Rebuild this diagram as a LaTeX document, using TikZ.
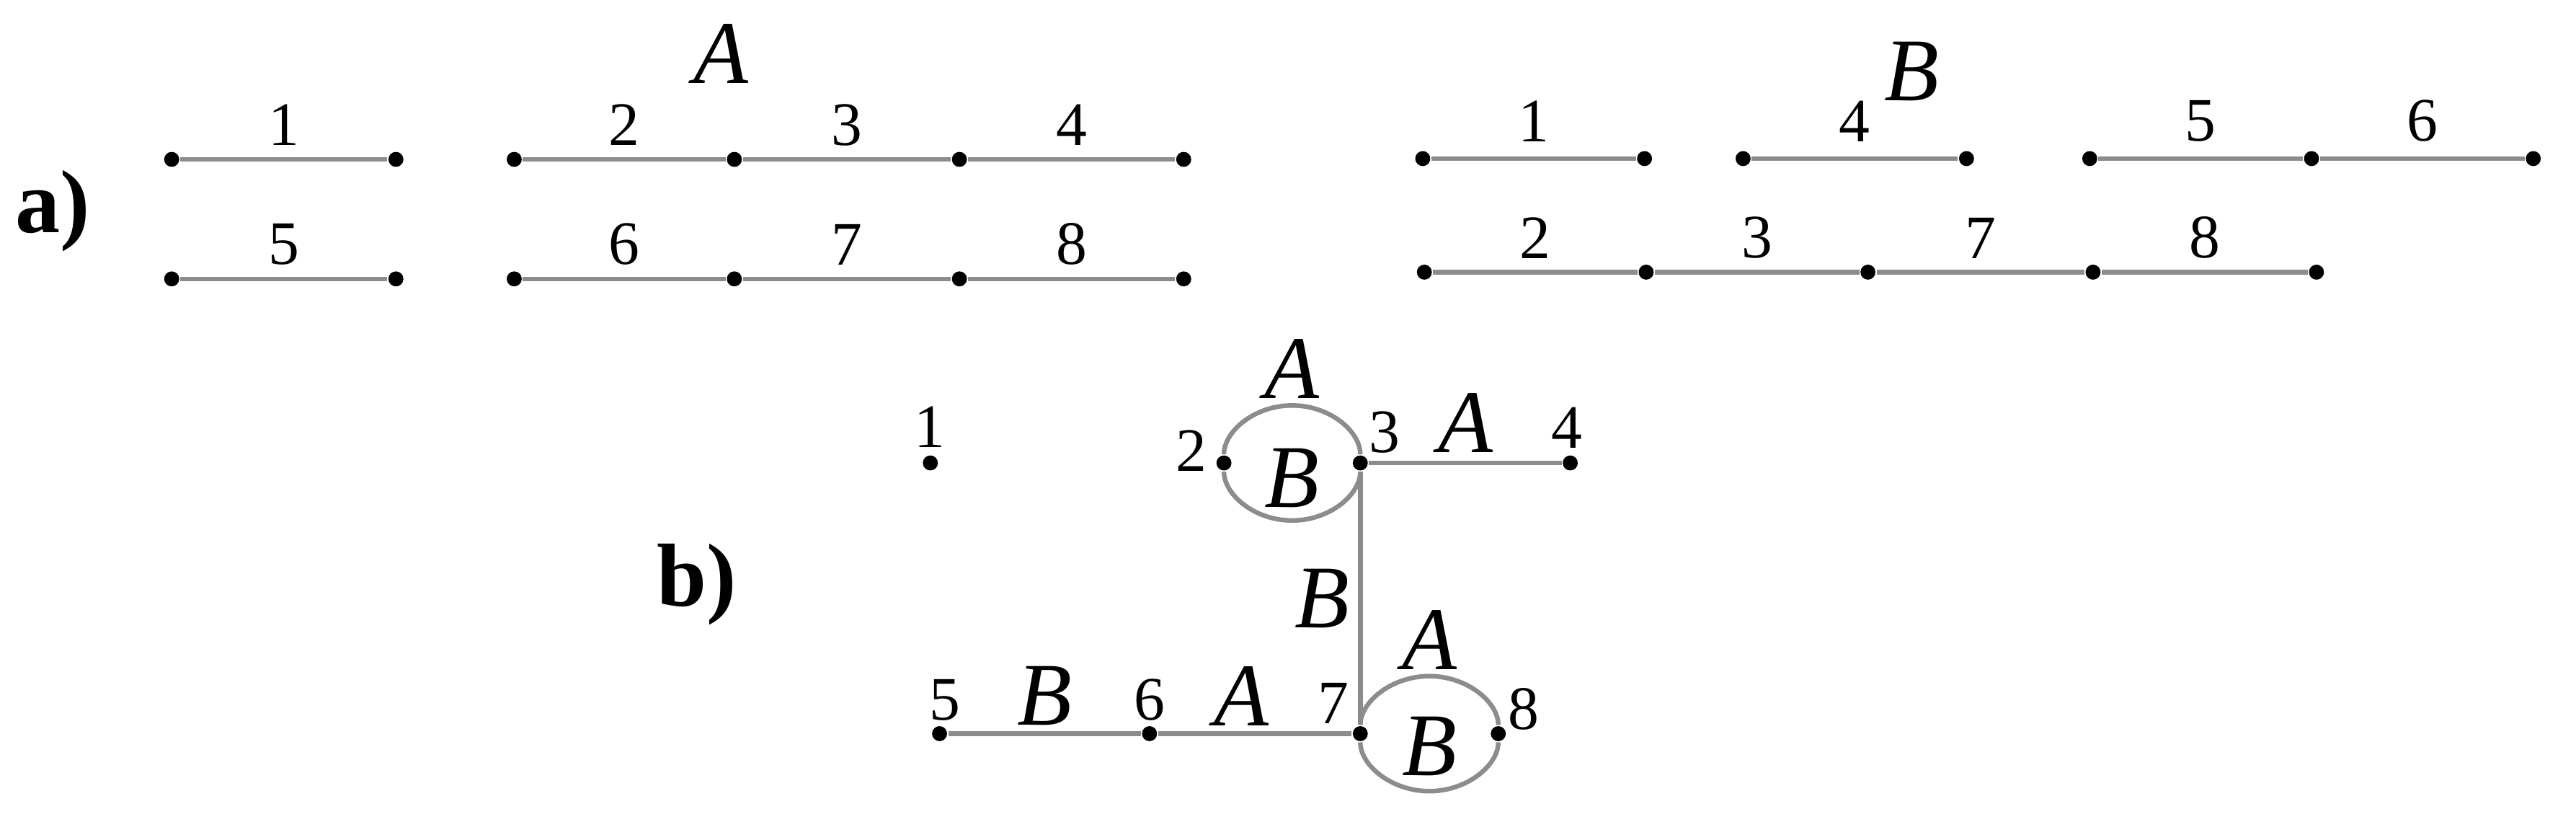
\documentclass[tikz,border=0pt]{standalone}
\usepackage{fontspec}
\setmainfont{Liberation Serif}
\usepackage{tikz}
\usetikzlibrary{calc}
\definecolor{edgegray}{RGB}{140,140,140}

\begin{document}
\begin{tikzpicture}[
    dot/.style={circle, fill=black, inner sep=0pt, minimum size=2.6pt},
    edge/.style={draw=edgegray, line width=0.8pt},
    num/.style={inner sep=0pt, font=\fontsize{10.7}{12}\selectfont},
    lab/.style={inner sep=0pt, font=\fontsize{15.5}{18}\selectfont\itshape},
    part/.style={inner sep=0pt, font=\fontsize{15.5}{18}\selectfont\bfseries}
  ]
    \useasboundingbox (0,0) rectangle (15.68,5);

    % Part labels
    \node[part, anchor=base] (pa) at (0.32,3.587) {a)};
    \node[part, anchor=base] (pb) at (4.242,1.314) {b)};

    % a) graph A
    \node[lab] (tA) at (4.39,4.674) {A};

    \node[dot] (ga1) at (1.045,4.03) {};
    \node[dot] (ga2) at (2.41,4.03) {};
    \node[dot] (ga3) at (3.13,4.03) {};
    \node[dot] (ga4) at (4.47,4.03) {};
    \node[dot] (ga5) at (5.84,4.03) {};
    \node[dot] (ga6) at (7.205,4.03) {};

    \node[dot] (ga7) at (1.045,3.303) {};
    \node[dot] (ga8) at (2.41,3.303) {};
    \node[dot] (ga9) at (3.13,3.303) {};
    \node[dot] (ga10) at (4.47,3.303) {};
    \node[dot] (ga11) at (5.84,3.303) {};
    \node[dot] (ga12) at (7.205,3.303) {};

    \draw[edge] (ga1) -- node[num, midway, above=2pt] {1} (ga2);
    \draw[edge] (ga3) -- node[num, midway, above=2pt] {2} (ga4);
    \draw[edge] (ga4) -- node[num, midway, above=2pt] {3} (ga5);
    \draw[edge] (ga5) -- node[num, midway, above=2pt] {4} (ga6);
    \draw[edge] (ga7) -- node[num, midway, above=2pt] {5} (ga8);
    \draw[edge] (ga9) -- node[num, midway, above=2pt] {6} (ga10);
    \draw[edge] (ga10) -- node[num, midway, above=2pt] {7} (ga11);
    \draw[edge] (ga11) -- node[num, midway, above=2pt] {8} (ga12);

    % a) graph B
    \node[lab] (tB) at (11.637,4.566) {B};

    \node[dot] (gb1) at (8.66,4.035) {};
    \node[dot] (gb2) at (10.01,4.035) {};
    \node[dot] (gb3) at (10.61,4.035) {};
    \node[dot] (gb4) at (11.97,4.035) {};
    \node[dot] (gb5) at (12.72,4.035) {};
    \node[dot] (gb6) at (14.07,4.035) {};
    \node[dot] (gb7) at (15.42,4.035) {};

    \node[dot] (gb8) at (8.67,3.344) {};
    \node[dot] (gb9) at (10.02,3.344) {};
    \node[dot] (gb10) at (11.37,3.344) {};
    \node[dot] (gb11) at (12.74,3.344) {};
    \node[dot] (gb12) at (14.10,3.344) {};

    \draw[edge] (gb1) -- node[num, midway, above=2.5pt] {1} (gb2);
    \draw[edge] (gb3) -- node[num, midway, above=2.5pt] {4} (gb4);
    \draw[edge] (gb5) -- node[num, midway, above=2.5pt] {5} (gb6);
    \draw[edge] (gb6) -- node[num, midway, above=2.5pt] {6} (gb7);
    \draw[edge] (gb8) -- node[num, midway, above=2pt] {2} (gb9);
    \draw[edge] (gb9) -- node[num, midway, above=2pt] {3} (gb10);
    \draw[edge] (gb10) -- node[num, midway, above=2pt] {7} (gb11);
    \draw[edge] (gb11) -- node[num, midway, above=2pt] {8} (gb12);

    % b) product graph
    \node[dot] (v1) at (5.663,2.183) {};
    \node[dot] (v2) at (7.45,2.183) {};
    \node[dot] (v3) at (8.28,2.183) {};
    \node[dot] (v4) at (9.558,2.183) {};
    \node[dot] (v5) at (5.719,0.536) {};
    \node[dot] (v6) at (6.997,0.536) {};
    \node[dot] (v7) at (8.28,0.536) {};
    \node[dot] (v8) at (9.12,0.536) {};

    \node[num] (n1) at (5.66,2.403) {1};
    \node[num] (n2) at (7.253,2.256) {2};
    \node[num] (n3) at (8.426,2.37) {3};
    \node[num] (n4) at (9.537,2.396) {4};
    \node[num] (n5) at (5.75,0.741) {5};
    \node[num] (n6) at (6.997,0.742) {6};
    \node[num] (n7) at (8.117,0.72) {7};
    \node[num] (n8) at (9.274,0.686) {8};

    % tops and bottoms of the double edges
    \coordinate (t23) at ($(v2)!0.5!(v3)+(0,0.35)$);
    \coordinate (b23) at ($(v2)!0.5!(v3)-(0,0.35)$);
    \coordinate (t78) at ($(v7)!0.5!(v8)+(0,0.35)$);
    \coordinate (b78) at ($(v7)!0.5!(v8)-(0,0.35)$);

    \draw[edge] (v2) .. controls +(0,0.193) and +(-0.229,0) .. (t23) .. controls +(0.229,0) and +(0,0.193) .. (v3);
    \draw[edge] (v2) .. controls +(0,-0.193) and +(-0.229,0) .. (b23) .. controls +(0.229,0) and +(0,-0.193) .. (v3);
    \node[lab, above=1pt] (e23a) at (t23) {A};
    \node[lab, above=2pt] (e23b) at (b23) {B};

    \draw[edge] (v7) .. controls +(0,0.193) and +(-0.229,0) .. (t78) .. controls +(0.229,0) and +(0,0.193) .. (v8);
    \draw[edge] (v7) .. controls +(0,-0.193) and +(-0.229,0) .. (b78) .. controls +(0.229,0) and +(0,-0.193) .. (v8);
    \node[lab, above=1pt] (e78a) at (t78) {A};
    \node[lab, above=2.5pt] (e78b) at (b78) {B};

    \draw[edge] (v3) -- node[lab, midway, above=1.4pt] {A} (v4);
    \draw[edge] (v3) -- node[lab, midway, left=1.5pt] {B} (v7);
    \draw[edge] (v5) -- node[lab, midway, above=1pt] {B} (v6);
    \draw[edge] (v6) -- node[lab, pos=0.43, above=1pt] {A} (v7);
\end{tikzpicture}
\end{document}
